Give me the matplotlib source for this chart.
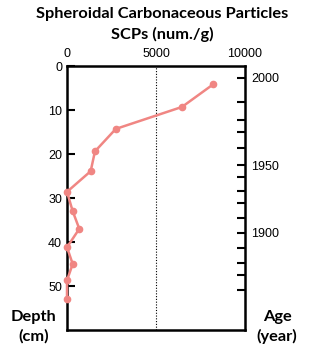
import matplotlib
matplotlib.use("Agg")
import matplotlib.pyplot as plt

# ---------- data ----------
depth_cm = [4.2, 9.3, 14.3, 19.4, 23.9, 28.6, 33.0, 37.0, 41.2, 45.0, 48.7, 53.0]
scp = [8200, 6460, 2740, 1570, 1330, 0, 320, 690, 0, 320, 0, 0]

# age scale on the right axis: year -> depth (cm)
age_years = [2000, 1990, 1980, 1970, 1960, 1950, 1940, 1930, 1920, 1910,
             1900, 1890, 1880, 1870, 1860]
age_depth = [2.7, 8.1, 12.2, 14.9, 18.7, 22.6, 25.3, 28.4, 31.2, 34.5,
             37.9, 41.3, 44.7, 47.4, 51.0]
age_labelled = [2000, 1950, 1900]

depth_ticks = [0, 10, 20, 30, 40, 50]
scp_ticks = [0, 5000, 10000]

# ---------- style ----------
plt.rcParams['font.family'] = ['Liberation Sans', 'DejaVu Sans']
tick_fs = 9
line_col = "#f08683"

fig = plt.figure(figsize=(3.24, 3.48), dpi=100)
ax = fig.add_axes([0.2068, 0.0517, 0.5494, 0.7586])

ax.plot(scp, depth_cm, color=line_col, lw=1.8, marker="o", ms=4.5,
        clip_on=False, zorder=3)
ax.axvline(5000, color="black", lw=0.8, ls=(0, (1, 1.5)), zorder=1)

ax.set_xlim(0, 10000)
ax.set_ylim(60, 0)

ax.xaxis.tick_top()
ax.set_xticks(scp_ticks)
ax.set_xticklabels([str(v) for v in scp_ticks])
ax.tick_params(axis="x", length=0, pad=4, labelsize=tick_fs)

ax.set_yticks(depth_ticks)
ax.tick_params(axis="y", direction="in", length=6, width=1.5, pad=3.5,
               labelsize=tick_fs)

for sp in ax.spines.values():
    sp.set_linewidth(1.8)

# right axis: age
ax2 = ax.twinx()
ax2.set_ylim(60, 0)
ax2.set_yticks(age_depth)
ax2.set_yticklabels([str(a) if a in age_labelled else "" for a in age_years])
ax2.tick_params(axis="y", direction="in", length=6, width=1.5, pad=4.5,
                labelsize=tick_fs)
for sp in ax2.spines.values():
    sp.set_visible(False)

# titles and axis names
title_font = dict(family=["Lato", "DejaVu Sans"], fontweight="bold",
                  fontsize=11.8, ha="center", va="center")
fig.text(0.5, 1 - 14 / 348, "Spheroidal Carbonaceous Particles", **title_font)
fig.text(0.5, 1 - 34 / 348, "SCPs (num./g)", **title_font)

fig.text(34 / 324, 1 - 317 / 348, "Depth", **title_font)
fig.text(34 / 324, 1 - 336 / 348, "(cm)", **title_font)
fig.text(277 / 324, 1 - 317 / 348, "Age", **title_font)
fig.text(277 / 324, 1 - 336 / 348, "(year)", **title_font)

fig.savefig("out.png", dpi=100)
